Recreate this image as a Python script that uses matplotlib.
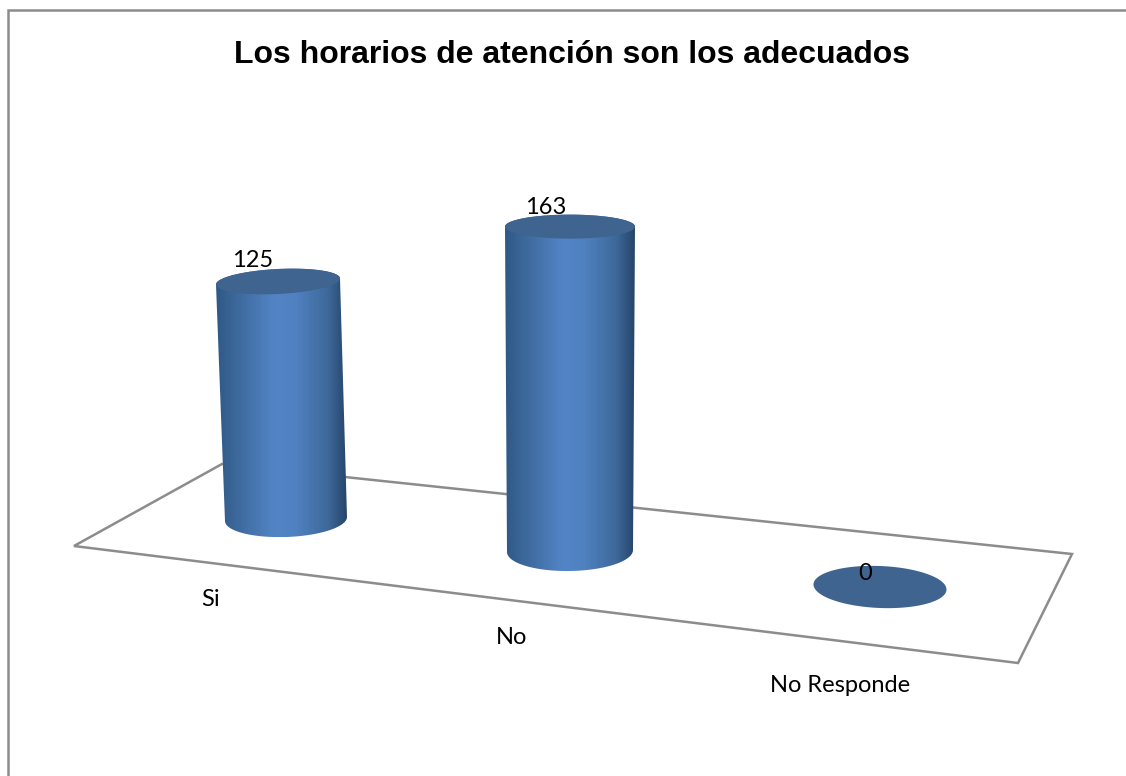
import numpy as np
import matplotlib
matplotlib.use('Agg')
import matplotlib.pyplot as plt
from matplotlib.colors import LinearSegmentedColormap
from matplotlib.patches import PathPatch, Polygon
from matplotlib.path import Path

# datos
categorias = ['Si', 'No', 'No Responde']
valores = [125, 163, 0]
titulo = 'Los horarios de atención son los adecuados'

# layout in pixels (the chart is a fake 3d projection)
base_x = [286, 570, 880]
base_y = [519, 551, 587]
base_a = [61, 63, 66.5]
base_b = [18, 20, 21]
base_tilt = [-2, -1, 2.5]
top_a = [62, 65, 66.5]
top_b = [12.5, 12, 21]
top_tilt = [-3, 0, 2.5]
px_por_unidad = [1.90, 1.99, 1.9]
inclinacion = [-0.064, 0, 0.05]
label_dx = [-25, -24, -15]
label_dy = [-21, -19, -14]
cat_x = [211, 512, 840]
cat_y = [599, 638, 685]
suelo = [(74, 546), (222, 464), (1072, 554), (1018, 663)]

W, H = 1126, 776
fig = plt.figure(figsize=(W / 100, H / 100), dpi=100)
ax = fig.add_axes([0, 0, 1, 1])

cmap = LinearSegmentedColormap.from_list('cil', [(0, '#2f5886'), (0.14, '#3b6799'), (0.45, '#5385c6'),
                                                (0.62, '#4f80bf'), (0.86, '#3d6899'), (1, '#26456a')])
gris = '#8c8c8c'

# marco del grafico (solo arriba e izquierda se ven)
ax.plot([8, 8, W], [H, 10, 10], color=gris, lw=1.8, solid_joinstyle='miter')

# suelo
ax.add_patch(Polygon(suelo, closed=True, fill=False, edgecolor=gris, lw=1.8, joinstyle='miter'))


def elipse(cx, cy, a, b, tilt, t):
    return cx + a * np.cos(t), cy + b * np.sin(t) + tilt * np.cos(t)


for i, v in enumerate(valores):
    tx = base_x[i] + v * inclinacion[i]
    ty = base_y[i] - v * px_por_unidad[i]
    if v > 0:
        # cuerpo con degradado, la mitad alta queda debajo de la tapa
        t = np.linspace(0, np.pi, 60)
        bx, by = elipse(base_x[i], base_y[i], base_a[i], base_b[i], base_tilt[i], t)
        ux, uy = elipse(tx, ty, top_a[i], top_b[i], top_tilt[i], t + np.pi)
        pts = np.column_stack([np.r_[ux, bx], np.r_[uy, by]])
        clip = PathPatch(Path(np.vstack([pts, pts[0]])), facecolor='none', edgecolor='none', transform=ax.transData)
        ax.add_patch(clip)
        grad = np.linspace(0, 1, 256).reshape(1, -1)
        im = ax.imshow(grad, cmap=cmap, extent=[pts[:, 0].min(), pts[:, 0].max(), by.max(), uy.min()],
                       aspect='auto', zorder=2)
        im.set_clip_path(clip)
    # tapa
    t = np.linspace(0, 2 * np.pi, 120)
    ex, ey = elipse(tx, ty, top_a[i], top_b[i], top_tilt[i], t)
    ax.fill(ex, ey, color='#3e648f', lw=0, zorder=3)
    ax.text(tx + label_dx[i], ty + label_dy[i], str(v), ha='center', va='center',
            family='Lato', fontsize=17, color='black', zorder=5)
    ax.text(cat_x[i], cat_y[i], categorias[i], ha='center', va='center',
            family='Lato', fontsize=17, color='black', zorder=5)

ax.text(572, 55, titulo, ha='center', va='center', family='Liberation Sans',
        fontweight='bold', fontsize=23, color='black')

ax.set_xlim(0, W)
ax.set_ylim(H, 0)
ax.axis('off')
fig.savefig('out.png', dpi=100, facecolor='white')
